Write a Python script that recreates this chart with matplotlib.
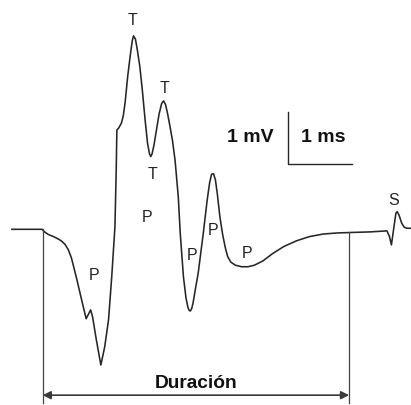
import matplotlib
matplotlib.use("Agg")
import matplotlib.pyplot as plt

# Motor unit potential waveform: time (ms) vs voltage (mV), baseline = 0
time_ms = [-0.47, 0.00, 0.04, 0.10, 0.18, 0.26, 0.31, 0.36, 0.41, 0.46, 0.54, 0.62,
           0.69, 0.76, 0.79, 0.85, 0.92, 0.98, 1.04, 1.09, 1.14, 1.16, 1.17, 1.20,
           1.24, 1.27, 1.30, 1.34, 1.38, 1.41, 1.43, 1.46, 1.49, 1.53, 1.57, 1.61,
           1.65, 1.68, 1.70, 1.72, 1.75, 1.79, 1.83, 1.87, 1.90, 1.93, 1.96, 2.00,
           2.04, 2.08, 2.13, 2.16, 2.21, 2.25, 2.28, 2.30, 2.32, 2.34, 2.36, 2.39,
           2.44, 2.52, 2.58, 2.62, 2.65, 2.68, 2.71, 2.74, 2.78, 2.82, 2.86, 2.90,
           2.95, 3.02, 3.12, 3.22, 3.32, 3.45, 3.60, 3.78, 3.98, 4.18, 4.40, 4.62,
           4.85, 5.13, 5.39, 5.43, 5.46, 5.50, 5.53, 5.55, 5.58, 5.62, 5.66, 5.70, 5.77]
volt_mv = [0.00, 0.00, -0.05, -0.10, -0.14, -0.19, -0.23, -0.29, -0.39, -0.55, -0.94, -1.36,
           -1.72, -1.55, -1.68, -2.13, -2.61, -2.26, -1.74, -0.91, 0.05, 1.14, 1.91, 1.95,
           2.04, 2.18, 2.45, 2.95, 3.35, 3.62, 3.72, 3.66, 3.45, 3.12, 2.65, 2.12,
           1.65, 1.45, 1.40, 1.45, 1.62, 1.92, 2.22, 2.42, 2.47, 2.40, 2.24, 1.98,
           1.70, 1.32, 0.62, -0.07, -0.91, -1.32, -1.50, -1.56, -1.57, -1.52, -1.42, -1.20,
           -0.85, -0.08, 0.55, 0.90, 1.06, 1.07, 0.95, 0.68, 0.24, -0.08, -0.33, -0.52,
           -0.63, -0.69, -0.72, -0.72, -0.69, -0.61, -0.47, -0.33, -0.22, -0.14, -0.09, -0.07,
           -0.06, -0.05, -0.03, -0.14, -0.30, 0.05, 0.31, 0.34, 0.27, 0.12, 0.04, 0.02, 0.02]

# Phase / turn labels
label_text = ["T", "T", "T", "P", "P", "P", "P", "P", "S"]
label_t = [1.42, 1.91, 1.72, 1.64, 0.81, 2.34, 2.67, 3.20, 5.50]
label_v = [4.01, 2.71, 1.06, 0.22, -0.88, -0.51, -0.03, -0.47, 0.56]

# Duration markers (ms)
dur_start, dur_end = 0.01, 4.80
# Scale bar: 1 mV, 1 ms
bar_t0, bar_v0 = 3.85, 1.25
bar_dt, bar_dv = 1.0, 1.0

plt.rcParams['font.family'] = ['Liberation Sans', 'DejaVu Sans']

fig = plt.figure(figsize=(4.11, 4.05), dpi=100)
ax = fig.add_axes([0, 0, 1, 1])
ax.set_xlim(-0.656, 5.766)
ax.set_ylim(-3.379, 4.410)
ax.axis('off')

col = '#262626'
ax.plot(time_ms, volt_mv, color=col, lw=1.15, solid_joinstyle='round')

# duration vertical lines
ax.plot([dur_start, dur_start], [0.0, -3.34], color='#444444', lw=0.9)
ax.plot([dur_end, dur_end], [-0.06, -3.34], color='#444444', lw=0.9)
ax.annotate('', xy=(dur_start, -3.19), xytext=(dur_end, -3.19),
            arrowprops=dict(arrowstyle='<|-|>', color='#3a3a3a', lw=1.2,
                            mutation_scale=12, shrinkA=0, shrinkB=0))
ax.text((dur_start + dur_end) / 2, -2.96, 'Duración', ha='center', va='center',
        fontsize=13.8, fontweight='bold', color='#111111')

# scale bar
ax.plot([bar_t0, bar_t0, bar_t0 + bar_dt], [bar_v0 + bar_dv, bar_v0, bar_v0],
        color=col, lw=1.0)
ax.text(3.25, 1.77, '1 mV', ha='center', va='center', fontsize=14,
        fontweight='bold', color='#111111')
ax.text(4.39, 1.77, '1 ms', ha='center', va='center', fontsize=14,
        fontweight='bold', color='#111111')

for s, t, v in zip(label_text, label_t, label_v):
    ax.text(t, v, s, ha='center', va='center', fontsize=11.5, color='#222222')

fig.savefig('out.png', dpi=100, facecolor='white')
